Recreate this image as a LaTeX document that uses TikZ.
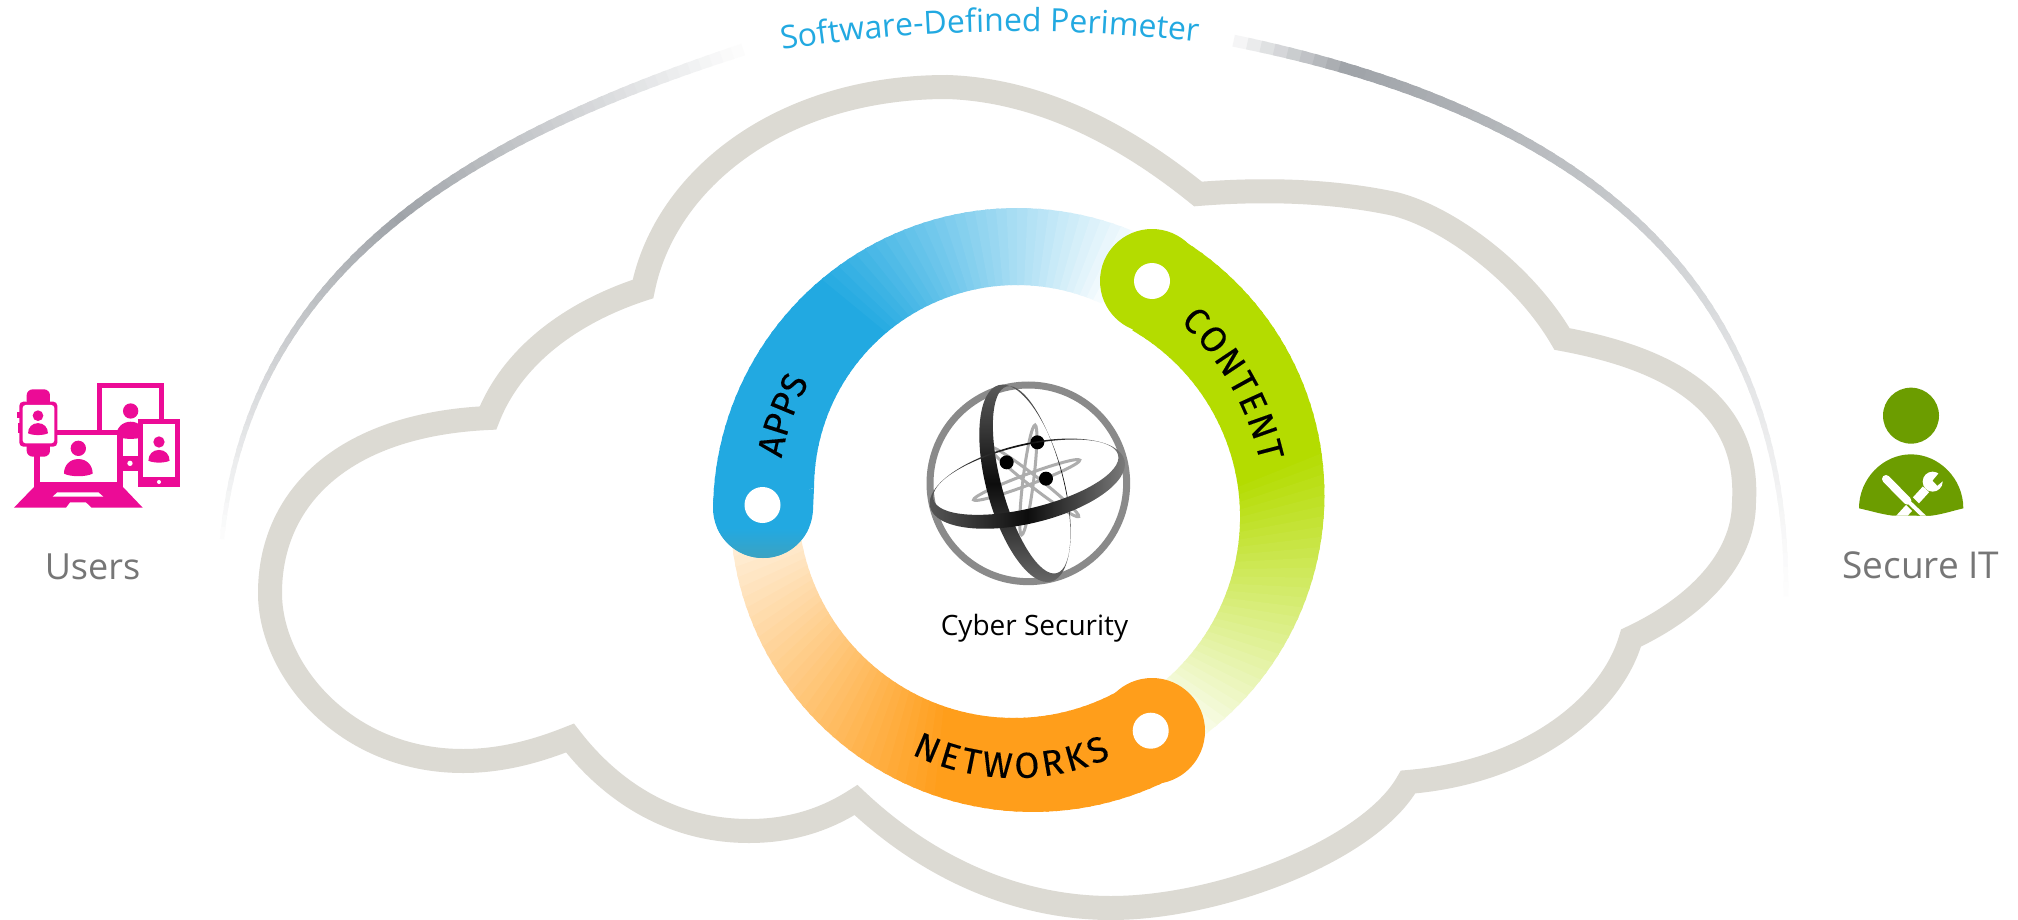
\documentclass[tikz,border=0pt]{standalone}
\usepackage{fontspec}
\setmainfont{Open Sans}
\newfontfamily\ringfont[FakeBold=0.3]{Fira Sans}
\usetikzlibrary{calc}
\usetikzlibrary{decorations.text}

\definecolor{appsblue}{HTML}{22A9E1}
\definecolor{capshadow}{HTML}{3DA2C0}
\definecolor{contentgreen}{HTML}{B4DC00}
\definecolor{networksorange}{HTML}{FF9E1B}
\definecolor{cloudgray}{HTML}{DCDAD3}
\definecolor{perimgray}{HTML}{9FA3A8}
\definecolor{userspink}{HTML}{EC0B96}
\definecolor{itgreen}{HTML}{6C9D00}
\definecolor{labelgray}{HTML}{767676}
\definecolor{logogray}{HTML}{8A8A8A}

\tikzset{
  cloudline/.style={draw=cloudgray,line width=24pt},
  ringtext/.style={decorate,decoration={text along path,text={|\ringfont\fontsize{36}{36}\selectfont|#1},text align={fit to path},text color=black}},
  sidelabel/.style={anchor=base,text=labelgray,font=\fontsize{36}{40}\selectfont},
  smallatom/.style={draw=logogray!70,line width=3pt},
  hole/.style={fill=white}
}

% one ring band: colour, outer centre, outer radius, inner centre, inner radius,
% first angle, end of solid part, last angle, strength at last angle
\newcommand{\ringband}[9]{
  \pgfmathtruncatemacro\nsteps{(#8-#6)/2}
  \foreach \i in {0,...,\nsteps}{
    \pgfmathsetmacro\a{#6+2*\i}
    \pgfmathsetmacro\b{\a+2.6}
    \pgfmathsetmacro\p{\a<#7?100:100-(100-#9)*(\a-#7)/(#8-#7)}
    \fill[#1!\p!white] ($#2+(\a:#3)$) -- ($#2+(\b:#3)$) -- ($#4+(\b:#5)$) -- ($#4+(\a:#5)$) -- cycle;
  }
}

% perimeter arc: four bezier points, place of darkest tone
\newcommand{\perimarc}[5]{
  \foreach \i in {0,...,70}{
    \pgfmathsetmacro\t{\i/70}
    \pgfmathsetmacro\u{min(1,(\i+1.4)/70)}
    \pgfmathsetmacro\p{\t<#5?100*\t/#5:100*(1-\t)/(1-#5)}
    \pgfmathsetmacro\w{12-8*\t}
    \path #1 .. controls #2 and #3 .. #4 coordinate[pos=\t] (pa) coordinate[pos=\u] (pb);
    \draw[perimgray!\p!white,line width=\w pt] (pa) -- (pb);
  }
}

% head and shoulders
\newcommand{\usericon}[3]{
  \fill (#1,#2) circle (#3);
  \fill ({#1-1.87*#3},{#2+3.3*#3}) .. controls ({#1-1.87*#3},{#2+2.2*#3}) and ({#1-1.1*#3},{#2+1.4*#3}) .. ({#1},{#2+1.4*#3})
    .. controls ({#1+1.1*#3},{#2+1.4*#3}) and ({#1+1.87*#3},{#2+2.2*#3}) .. ({#1+1.87*#3},{#2+3.3*#3})
    .. controls ({#1+#3},{#2+3.75*#3}) and ({#1-#3},{#2+3.75*#3}) .. cycle;
}

\begin{document}
\begin{tikzpicture}[x=1pt,y=-1pt]
\useasboundingbox (0,0) rectangle (2018,920);
\fill[white] (0,0) rectangle (2018,920);

\draw[cloudline] (488,418) .. controls (512,356) and (572,312) .. (643,289)
  .. controls (665,180) and (780,87) .. (947,87)
  .. controls (1040,90) and (1125,135) .. (1198,194)
  .. controls (1260,189) and (1330,190) .. (1395,204)
  .. controls (1450,218) and (1525,275) .. (1562,339)
  .. controls (1665,358) and (1750,400) .. (1744,502)
  .. controls (1744,560) and (1695,608) .. (1631,638)
  .. controls (1612,705) and (1530,772) .. (1408,782)
  .. controls (1370,850) and (1220,908) .. (1111,908)
  .. controls (1020,908) and (930,870) .. (856,800)
  .. controls (825,820) and (790,831) .. (749,831)
  .. controls (670,831) and (610,790) .. (570,738)
  .. controls (535,752) and (500,761) .. (463,761)
  .. controls (345,761) and (270,670) .. (270,593)
  .. controls (270,500) and (340,425) .. (488,418) -- cycle;

\perimarc{(754,46)}{(500,128)}{(250,250)}{(222,539)}{.5}
\perimarc{(1220,38)}{(1540,100)}{(1790,250)}{(1786,596)}{.13}
\path[decorate,decoration={text along path,text={|\fontsize{32}{32}\selectfont|Software-Defined Perimeter},text align={fit to path},text color=appsblue}]
  (782,50) .. controls (920,28) and (1058,26) .. (1196,42);

\coordinate (appsout) at (1017,512);
\coordinate (appsin) at (1017,488);
\coordinate (contentout) at (1024.5,495);
\coordinate (contentin) at (1024.6,517);
\coordinate (netout) at (1033,509);
\coordinate (netin) at (1014,502);
\coordinate (appscap) at (763,508);
\coordinate (contentcap) at (1152,281);
\coordinate (netcap) at (1152,731);

\ringband{networksorange}{(netout)}{303}{(netin)}{216}{59}{107}{176}{12}
\ringband{appsblue}{(appsout)}{304}{(appsin)}{203}{180}{228}{292}{4}
\ringband{contentgreen}{(contentout)}{300}{(contentin)}{215.5}{300}{350}{412}{8}

\fill[appsblue] (appscap) circle (50);
\fill[appsblue] (814,488) -- (813,510) -- (775,500) -- cycle;
\begin{scope}
\clip (appscap) circle (50);
\shade[top color=appsblue,bottom color=capshadow] (700,528) rectangle (830,560);
\end{scope}
\fill[contentgreen] (contentcap) circle (52);
\fill[networksorange] (netcap) circle (53);
\fill[hole] (762.5,505) circle (18);
\fill[hole] (1152,281) circle (18);
\fill[hole] (1150.7,730.7) circle (18);

\path[ringtext={APPS}] (781.6,458.5) .. controls (785.8,434.5) and (793.8,411.3) .. (805,389.7);
\path[ringtext={CONTENT}] (1180,322) .. controls (1218,357) and (1247,405) .. (1260,462);
\path[ringtext={NETWORKS}] (911.5,754.1) .. controls (974.2,784.7) and (1047.2,786) .. (1111,757.6);

% logo
\begin{scope}[shift={(900,360)},x=0.3333pt,y=-0.3333pt]
\draw[logogray,line width=7pt] (385,370) circle (295);
\draw[smallatom,rotate around={-7:(385,360)}] (385,360) ellipse [x radius=16,y radius=166];
\draw[smallatom,rotate around={20.5:(380,360)}] (380,360) ellipse [x radius=170,y radius=16];
\draw[smallatom,rotate around={-38:(402,365)}] (402,365) ellipse [x radius=170,y radius=16];
\fill[black] (412,247) circle (21);
\fill[black] (320,307) circle (21);
\fill[black] (438,356) circle (21);
\shade[even odd rule,top color=black!65,bottom color=black!60,middle color=black!95]
  [rotate around={15:(375,370)}] (375,370) ellipse [x radius=116,y radius=305]
  (397,365) ellipse [x radius=92,y radius=290];
\shade[even odd rule,left color=black!65,right color=black!50,middle color=black!95]
  [rotate around={13.5:(382,371)}] (382,371) ellipse [x radius=300,y radius=119]
  (382,351) ellipse [x radius=285,y radius=94];
\end{scope}
\node[anchor=base,font=\fontsize{28}{32}\selectfont] (cyberlabel) at (1034.5,635) {Cyber Security};

% users icon
\begin{scope}[shift={(0,360)},x=0.3333pt,y=-0.3333pt,fill=userspink]
\fill (290,70) rectangle (492,215);
\fill[white] (305,85) rectangle (477,215);
\fill (352,210) rectangle (415,333);
\fill[white] (368,232) rectangle (415,288);
\fill[white] (390,310) circle (8);
\usericon{392}{153}{23}
\fill (103,210) rectangle (368,380);
\fill[white] (120,225) rectangle (352,365);
\usericon{235}{265}{23}
\fill (103,380) -- (42,443) -- (198,443) -- (210,427) -- (258,427) -- (275,443) -- (428,443) -- (368,380) -- cycle;
\fill[white] (158,410) -- (310,410) -- (295,397) -- (172,397) -- cycle;
\fill (103,285) rectangle (120,380);
\fill[rounded corners=6pt] (80,88) rectangle (150,140);
\fill[rounded corners=6pt] (80,240) rectangle (150,290);
\fill (50,155) rectangle (62,175);
\fill (54,190) rectangle (62,220);
\fill[rounded corners=4pt] (58,125) rectangle (172,260);
\fill[white,rounded corners=3pt] (68,135) rectangle (163,250);
\usericon{114}{167}{16}
\fill (415,178) rectangle (540,381);
\fill[white] (429,191) rectangle (526,352);
\fill[white] (477,366) circle (6);
\usericon{477}{246}{17}
\end{scope}
\node[sidelabel] (userslabel) at (92.5,579) {Users};

% secure it icon
\begin{scope}[shift={(1800,360)},x=0.3333pt,y=-0.3333pt]
\fill[itgreen] (333,167) circle (84);
\begin{scope}
\clip (177,445) .. controls (177,355) and (250,283) .. (333,283) .. controls (416,283) and (490,355) .. (490,445)
  .. controls (460,452) and (430,462) .. (395,467) -- (278,467) .. controls (240,462) and (210,452) .. (177,445) -- cycle;
\fill[itgreen] (150,270) rectangle (510,480);
\draw[white,line width=8.5pt] (285,490) -- (378,388);
\fill[white] (398,365) circle (30);
\fill[itgreen] (398,362) -- (421,334) -- (442,352) -- (412,377) -- cycle;
\draw[itgreen,line width=10pt] (300,395) -- (392,487);
\draw[white,line width=8pt,line cap=round] (258,357) -- (322,422);
\draw[white,line width=4pt] (318,418) -- (385,482);
\end{scope}
\end{scope}
\node[sidelabel,font=\fontsize{37}{40}\selectfont] (itlabel) at (1921,578) {Secure IT};
\end{tikzpicture}
\end{document}
